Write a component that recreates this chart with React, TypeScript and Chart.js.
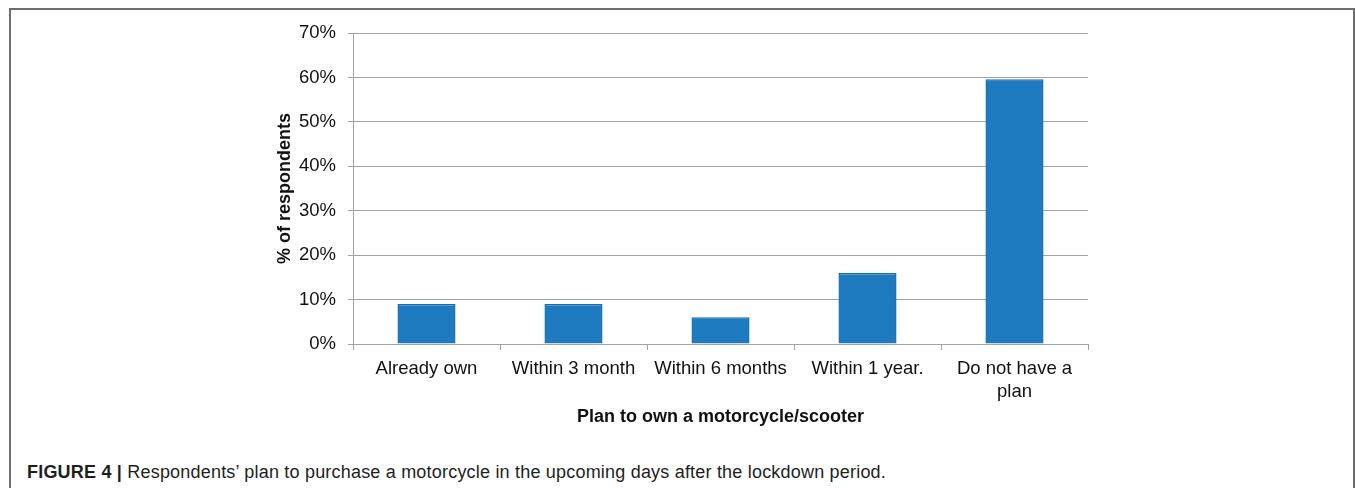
import React, { useEffect, useRef } from "react";
import { Chart, registerables } from "chart.js";

Chart.register(...registerables);

// Share of respondents by when they plan to own a motorcycle/scooter (%)
const categories: (string | string[])[] = [
  "Already own",
  "Within 3 month",
  "Within 6 months",
  "Within 1 year.",
  ["Do not have a", "plan"],
];
const respondentShare: number[] = [9, 9, 6, 16, 59.6];
const yTickMax = 70;
const yTickStep = 10;

const FONT = "'Liberation Sans', Arial, Helvetica, sans-serif";
const GRID = "#a3a3a3";
const BAR_FILL = "#1f7bbf";
const BAR_EDGE = "#1b6fae";

const CANVAS_W = 1342;
const CANVAS_H = 420;

export default function App() {
  const canvasRef = useRef<HTMLCanvasElement | null>(null);

  useEffect(() => {
    const canvas = canvasRef.current;
    if (!canvas) return;
    const chart = new Chart(canvas, {
      type: "bar",
      data: {
        labels: categories,
        datasets: [
          {
            data: respondentShare,
            backgroundColor: BAR_FILL,
            borderColor: BAR_EDGE,
            borderWidth: 1.5,
            barPercentage: 0.395,
            categoryPercentage: 1,
          },
        ],
      },
      options: {
        responsive: false,
        animation: false,
        devicePixelRatio: 1,
        layout: { padding: { left: 263, right: 265, top: 22, bottom: 2 } },
        plugins: {
          legend: { display: false },
          tooltip: { enabled: false },
        },
        scales: {
          x: {
            grid: {
              offset: true,
              drawOnChartArea: false,
              drawTicks: true,
              tickLength: 6,
              color: GRID,
            },
            border: { display: true, color: GRID, width: 1 },
            ticks: {
              color: "#111",
              padding: 7,
              maxRotation: 0,
              autoSkip: false,
              font: { family: FONT, size: 18.5, lineHeight: 1.25 },
            },
            title: {
              display: true,
              text: "Plan to own a motorcycle/scooter",
              color: "#111",
              padding: 0,
              font: { family: FONT, size: 18, weight: "bold", lineHeight: 1.2 },
            },
            afterFit: (scale: any) => {
              scale.height = 84;
            },
          },
          y: {
            min: 0,
            max: yTickMax,
            grid: {
              drawTicks: true,
              tickLength: 5,
              color: GRID,
              lineWidth: 1,
            },
            border: { display: true, color: GRID, width: 1 },
            ticks: {
              stepSize: yTickStep,
              color: "#111",
              padding: 12,
              font: { family: FONT, size: 18.5 },
              callback: (v: any) => `${v}%`,
            },
            title: {
              display: true,
              text: "% of respondents",
              color: "#111",
              padding: 0,
              font: { family: FONT, size: 18, weight: "bold", lineHeight: 1.2 },
            },
            afterFit: (scale: any) => {
              scale.width = 79;
            },
          },
        },
      },
    });
    return () => chart.destroy();
  }, []);

  return (
    <div
      style={{
        position: "fixed",
        left: 9,
        top: 8,
        width: 1346,
        height: 520,
        boxSizing: "border-box",
        border: "2px solid #6e6e6e",
        background: "#fff",
      }}
    >
      <canvas
        ref={canvasRef}
        width={CANVAS_W}
        height={CANVAS_H}
        style={{ position: "absolute", left: 0, top: 0, width: CANVAS_W, height: CANVAS_H }}
      />
      <div
        style={{
          position: "absolute",
          left: 16,
          top: 452,
          whiteSpace: "nowrap",
          fontFamily: FONT,
          fontSize: 18,
          letterSpacing: "0.2px",
          lineHeight: "20px",
          color: "#1e1e1e",
        }}
      >
        <span style={{ fontWeight: "bold" }}>FIGURE 4 | </span>
        Respondents’ plan to purchase a motorcycle in the upcoming days after the lockdown period.
      </div>
    </div>
  );
}
